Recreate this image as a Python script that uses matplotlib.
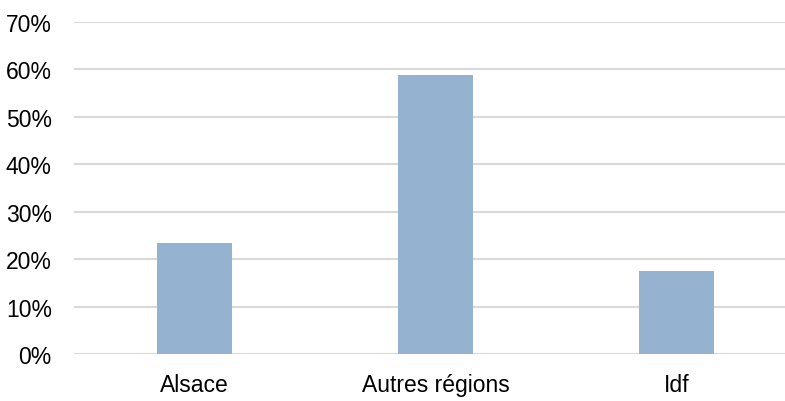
import matplotlib.pyplot as plt
from matplotlib.ticker import PercentFormatter

plt.rcParams['font.family'] = ['Liberation Sans', 'DejaVu Sans']

categories = ['Alsace', 'Autres régions', 'Idf']
values = [0.234, 0.588, 0.175]
yticks = [0, 0.1, 0.2, 0.3, 0.4, 0.5, 0.6, 0.7]

fig = plt.figure(figsize=(7.85, 4.02), dpi=100)
ax = fig.add_axes([74 / 785, 47 / 402, 711 / 785, 332 / 402])

x = range(len(categories))
ax.bar(x, values, width=0.31, color='#95B3D1', zorder=3)

ax.set_xlim(-0.5, 711 / 241 - 0.5)
ax.set_ylim(0, 0.7)
ax.set_yticks(yticks)
ax.yaxis.set_major_formatter(PercentFormatter(1.0, decimals=0))
ax.set_xticks(list(x))
ax.set_xticklabels(categories)

ax.grid(axis='y', color='#D9D9D9', linewidth=1.5, zorder=0)
for s in ax.spines.values():
    s.set_visible(False)
ax.tick_params(axis='y', length=0, pad=16, labelsize=16.5, labelcolor='#000000')
ax.tick_params(axis='x', length=0, pad=14, labelsize=16.5, labelcolor='#000000')

fig.savefig('out.png', dpi=100)
